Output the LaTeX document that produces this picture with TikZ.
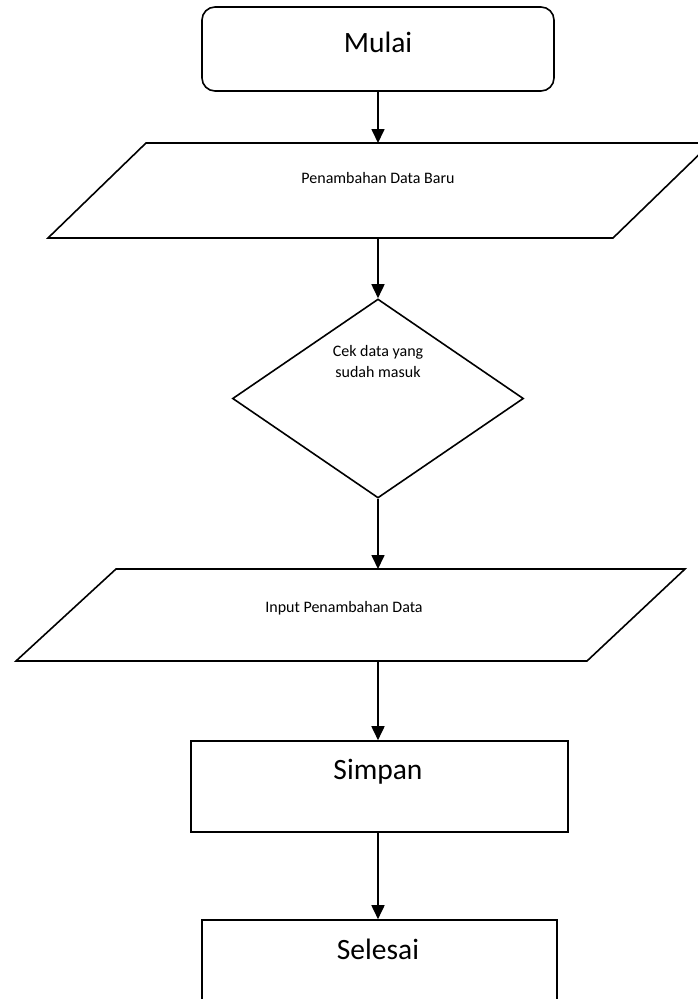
\documentclass[tikz,border=0pt]{standalone}
\usepackage{fontspec}
\setmainfont{Carlito}
\usetikzlibrary{arrows.meta,shapes.geometric}
\begin{document}
\begin{tikzpicture}[x=1pt,y=-1pt,
  shapeline/.style={draw=black,line width=1.6pt},
  bigtext/.style={anchor=base,font=\fontsize{29.5}{34}\selectfont},
  smalltext/.style={anchor=base,align=center,font=\fontsize{16}{21}\selectfont},
  flow/.style={line width=1.7pt,-{Triangle[width=13pt,length=14pt]}}]
\useasboundingbox[fill=white] (0,0) rectangle (697,999);
% Mulai
\node[shapeline,rounded corners=13pt,minimum width=352pt,minimum height=84pt,inner sep=0pt] (start) at (378,49) {};
\node[bigtext] (tstart) at (378,52) {Mulai};
% Parallelogram 1
\draw[shapeline,line join=miter] (146,143) -- (711,143) -- (613,238) -- (48,238) -- cycle;
\coordinate (p1top) at (378,143);
\coordinate (p1bot) at (378,238);
\node[smalltext] (tp1) at (378,183) {Penambahan Data Baru};
% Diamond
\node[shapeline,diamond,minimum width=291pt,minimum height=199pt,inner sep=0pt] (dec) at (378,398.5) {};
\node[smalltext] (tdec) at (378,377) {Cek data yang\\sudah masuk};
% Parallelogram 2
\draw[shapeline,line join=miter] (116,569) -- (685,569) -- (587,661) -- (16,661) -- cycle;
\coordinate (p2top) at (378,569);
\coordinate (p2bot) at (378,661);
\node[smalltext] (tp2) at (344,612) {Input Penambahan Data};
% Simpan
\node[shapeline,rectangle,minimum width=377pt,minimum height=91pt,inner sep=0pt] (save) at (379.5,786.5) {};
\node[bigtext] (tsave) at (378,779) {Simpan};
% Selesai
\node[shapeline,rectangle,minimum width=355pt,minimum height=120pt,inner sep=0pt] (stop) at (379.5,980) {};
\node[bigtext] (tstop) at (378,959) {Selesai};
% Connectors
\draw[flow] (start.south -| p1top) -- (p1top);
\draw[flow] (p1bot) -- (dec.north);
\draw[flow] (dec.south) -- (p2top);
\draw[flow] (p2bot) -- (p2bot |- save.north);
\draw[flow] (p2bot |- save.south) -- (p2bot |- stop.north);
\end{tikzpicture}
\end{document}
